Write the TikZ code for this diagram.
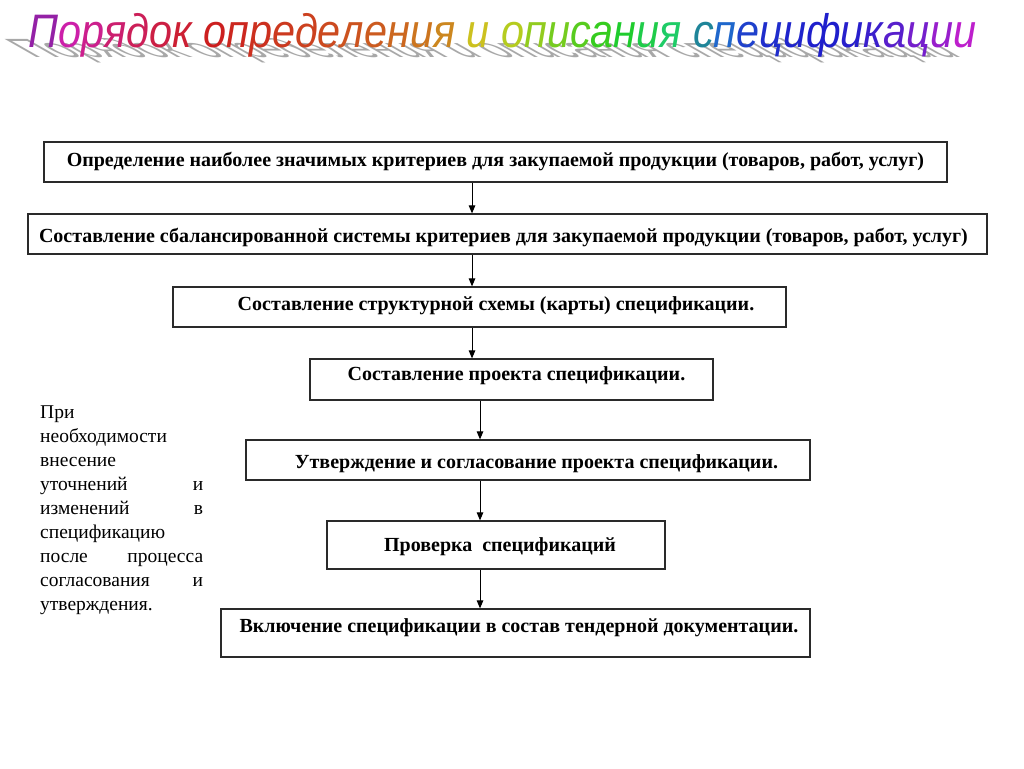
\documentclass[tikz,border=0pt]{standalone}
\usepackage{fontspec}
\usepackage{graphicx}
\setmainfont{Liberation Serif}
\newfontfamily\titlefont{Liberation Sans}
\usetikzlibrary{arrows.meta}
\definecolor{shadowgray}{HTML}{A8A8A8}
\definecolor{edgegray}{HTML}{2A2A2A}
\newcommand\hc[2]{\textcolor[Hsb]{#1,0.85,0.8}{#2}}
\newcommand\titletext{\titlefont\itshape\fontsize{47}{50}\selectfont
\textcolor[Hsb]{292,0.8,0.65}{П}\hc{312}{о}\hc{322}{р}\hc{332}{я}\hc{340}{д}\hc{347}{о}\hc{353}{к} %
\hc{0}{о}\hc{3}{п}\hc{6}{р}\hc{9}{е}\hc{12}{д}\hc{15}{е}\hc{18}{л}\hc{21}{е}\hc{25}{н}\hc{30}{и}\hc{36}{я} %
\hc{56}{и} %
\hc{68}{о}\hc{80}{п}\hc{90}{и}\hc{100}{с}\hc{112}{а}\hc{125}{н}\hc{135}{и}\hc{145}{я} %
\textcolor[Hsb]{190,0.8,0.6}{с}\hc{215}{п}\hc{228}{е}\hc{235}{ц}\hc{238}{и}\hc{240}{ф}\hc{243}{и}\hc{250}{к}\hc{260}{а}\hc{270}{ц}\hc{282}{и}\hc{295}{и}}
\newcommand\shadowtext{\titlefont\itshape\fontsize{47}{50}\selectfont Порядок определения и описания спецификации}
\begin{document}
\begin{tikzpicture}[x=1pt,y=-1pt,
  box/.style={draw=edgegray, line width=1.2pt, rectangle, inner sep=0pt},
  btext/.style={anchor=base, inner sep=0pt, font=\bfseries\fontsize{20}{22}\selectfont},
  arr/.style={draw=black, line width=1pt, -{Triangle[width=6.5pt,length=8pt]}}]
\useasboundingbox (0,0) rectangle (1024,768);
\fill[white] (0,0) rectangle (1024,768);
% title with perspective shadow
\begin{scope}[shift={(35,57)}, cm={1,0,-1.15,0.56,(0pt,0pt)}]
\node[anchor=base west, inner sep=0pt, text=shadowgray, transform shape] (shadow) at (0,0)
  {\resizebox{930pt}{\height}{\shadowtext}};
\end{scope}
\node[anchor=base west, inner sep=0pt] (title) at (28,48)
  {\resizebox{948pt}{\height}{\titletext}};
% boxes
\node[box, minimum width=903pt, minimum height=40pt] (b1) at (495.5,162) {};
\node[box, minimum width=959pt, minimum height=40pt] (b2) at (507.5,234) {};
\node[box, minimum width=613pt, minimum height=40pt] (b3) at (479.5,307) {};
\node[box, minimum width=403pt, minimum height=41pt] (b4) at (511.5,379.5) {};
\node[box, minimum width=564pt, minimum height=40pt] (b5) at (528,460) {};
\node[box, minimum width=338pt, minimum height=48pt] (b6) at (496,545) {};
\node[box, minimum width=589pt, minimum height=48pt] (b7) at (515.5,633) {};
% box texts
\node[btext] (t1) at (495.5,166) {Определение наиболее значимых критериев для закупаемой продукции (товаров, работ, услуг)};
\node[btext] (t2) at (503.5,242) {Составление сбалансированной системы критериев для закупаемой продукции (товаров, работ, услуг)};
\node[btext] (t3) at (496,310) {Составление структурной схемы (карты) спецификации.};
\node[btext] (t4) at (516.5,380) {Составление проекта спецификации.};
\node[btext] (t5) at (536.5,468) {Утверждение и согласование проекта спецификации.};
\node[btext] (t6) at (500,551) {Проверка\ \ спецификаций};
\node[btext] (t7) at (519,632) {Включение спецификации в состав тендерной документации.};
% arrows
\coordinate (ax1) at (472,0);
\coordinate (ax2) at (480,0);
\draw[arr] (b1.south -| ax1) -- (b2.north -| ax1);
\draw[arr] (b2.south -| ax1) -- (b3.north -| ax1);
\draw[arr] (b3.south -| ax1) -- (b4.north -| ax1);
\draw[arr] (b4.south -| ax2) -- (b5.north -| ax2);
\draw[arr] (b5.south -| ax2) -- (b6.north -| ax2);
\draw[arr] (b6.south -| ax2) -- (b7.north -| ax2);
% side note
\node[anchor=base west, inner sep=0pt, text width=163pt, align=left,
  font=\fontsize{19.5}{24}\selectfont] (note) at (40,418)
  {При\\
   необходимости\\
   внесение\\
   уточнений\hfill и\\
   изменений\hfill в\\
   спецификацию\\
   после\hfill процесса\\
   согласования\hfill и\\
   утверждения.};
\end{tikzpicture}
\end{document}
